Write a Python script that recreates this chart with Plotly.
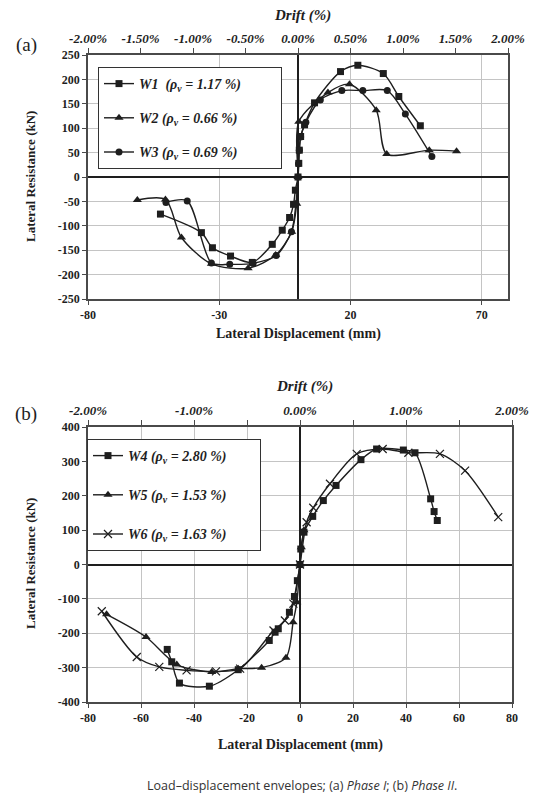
import plotly.graph_objects as go

# ---------------- Panel (a): Phase I ----------------
w1_x = [-52.4, -36.8, -32.6, -25.7, -17.4, -9.8, -6.0, -3.2, -1.7, -1.0, 0.0, 0.3, 0.5, 1.0, 2.5, 6.3, 16.2, 22.8, 32.5, 38.4, 46.6]
w1_y = [-76, -114, -145, -162, -175, -138, -109, -83, -56, -27, 0, 28, 55, 83, 107, 152, 216, 229, 212, 165, 105]

w2_x = [-61.2, -50.5, -44.4, -33.0, -19.0, -8.5, -2.4, -0.5, 0.0, 0.3, 11.4, 19.6, 29.8, 33.8, 50.0, 60.4]
w2_y = [-47, -46, -124, -178, -187, -160, -112, -55, 0, 113, 173, 190, 137, 47, 55, 53]

w3_x = [-50.3, -42.2, -33.0, -26.0, -17.1, -8.3, -2.5, -0.8, 0.0, 0.2, 0.5, 1.0, 3.0, 8.5, 16.7, 24.7, 34.0, 40.9, 51.0]
w3_y = [-52, -49, -176, -179, -177, -161, -112, -55, 0, 27, 55, 82, 112, 158, 177, 177, 177, 129, 42]

a_xticks = [-80, -30, 20, 70]
a_yticks = [250, 200, 150, 100, 50, 0, -50, -100, -150, -200, -250]
a_drift = [-2.0, -1.5, -1.0, -0.5, 0.0, 0.5, 1.0, 1.5, 2.0]

# ---------------- Panel (b): Phase II ----------------
w4_x = [-50.1, -48.4, -45.5, -34.2, -23.3, -11.6, -9.4, -8.2, -4.0, -2.1, -1.0, 0.0, 0.3, 1.5, 4.8, 8.8, 13.6, 23.0, 28.9, 39.0, 43.4, 49.3, 50.6, 51.8]
w4_y = [-247, -283, -345, -354, -306, -221, -197, -187, -139, -93, -47, 0, 45, 94, 140, 186, 230, 305, 336, 333, 325, 191, 154, 128]

w5_x = [-73.0, -58.1, -46.5, -33.3, -23.3, -14.5, -5.3, -2.6, -1.2, 0.0, 0.5, 1.5]
w5_y = [-145, -211, -291, -313, -303, -300, -271, -168, -110, 0, 50, 100]

w6_x = [-74.8, -61.6, -53.1, -42.8, -31.7, -22.6, -10.0, -5.7, -2.5, 0.0, 2.5, 5.0, 11.3, 21.4, 31.2, 40.9, 52.8, 62.3, 74.8]
w6_y = [-136, -269, -298, -308, -311, -303, -192, -163, -114, 0, 123, 165, 235, 322, 336, 325, 322, 273, 138]

b_xticks = [-80, -60, -40, -20, 0, 20, 40, 60, 80]
b_yticks = [400, 300, 200, 100, 0, -100, -200, -300, -400]
b_drift = [-2.0, -1.0, 0.0, 1.0, 2.0]

names_a = ["W1  (ρ<sub>v</sub> = 1.17 %)", "W2 (ρ<sub>v</sub> = 0.66 %)", "W3 (ρ<sub>v</sub> = 0.69 %)"]
names_b = ["W4 (ρ<sub>v</sub> = 2.80 %)", "W5 (ρ<sub>v</sub> = 1.53 %)", "W6 (ρ<sub>v</sub> = 1.63 %)"]

W, H = 537, 794
SERIF = "Liberation Serif"
INK = "#1e1e1e"
GRID = "#c4c4c4"
BORDER = "#4a4a4a"
PAD_A = "\u00a0" * 10  # right padding inside the legend boxes
PAD_B = "\u00a0" * 8


def px(v):
    return v / W


def py(v):
    return 1 - v / H


fig = go.Figure()

line_style = dict(color=INK, width=1.4, shape="spline", smoothing=0.8)

series_a = [
    (w1_x, w1_y, names_a[0], dict(symbol="square", size=7)),
    (w2_x, w2_y, names_a[1], dict(symbol="triangle-up", size=8)),
    (w3_x, w3_y, names_a[2], dict(symbol="circle", size=7)),
]
for i, (xs, ys, nm, mk) in enumerate(series_a):
    fig.add_trace(go.Scatter(
        x=xs, y=ys, name="<b><i>" + nm + "</i></b>" + PAD_A, mode="lines+markers",
        line=line_style, marker=dict(color=INK, **mk),
        xaxis="x", yaxis="y", legend="legend", legendgroup="a%d" % i,
    ))

series_b = [
    (w4_x, w4_y, names_b[0], dict(symbol="square", size=7)),
    (w5_x, w5_y, names_b[1], dict(symbol="triangle-up", size=8)),
    (w6_x, w6_y, names_b[2], dict(symbol="x-thin", size=8, line=dict(color=INK, width=1.2))),
]
for i, (xs, ys, nm, mk) in enumerate(series_b):
    fig.add_trace(go.Scatter(
        x=xs, y=ys, name="<b><i>" + nm + "</i></b>" + PAD_B, mode="lines+markers",
        line=line_style, marker=dict(color=INK, **mk),
        xaxis="x2", yaxis="y2", legend="legend2", legendgroup="b%d" % i,
    ))

# invisible carriers for the drift (top) axes
fig.add_trace(go.Scatter(x=a_drift, y=[0] * len(a_drift), mode="markers",
                         marker=dict(opacity=0), showlegend=False, hoverinfo="skip",
                         xaxis="x3", yaxis="y"))
fig.add_trace(go.Scatter(x=b_drift, y=[0] * len(b_drift), mode="markers",
                         marker=dict(opacity=0), showlegend=False, hoverinfo="skip",
                         xaxis="x4", yaxis="y2"))

tickfont = dict(family=SERIF, size=12, color=INK, weight="bold")
dfont = dict(family=SERIF, size=13, color=INK, weight="bold", style="italic")

common_x = dict(showgrid=True, gridcolor=GRID, gridwidth=1,
                zeroline=True, zerolinecolor=INK, zerolinewidth=2,
                showline=True, linecolor=BORDER, linewidth=1.5,
                ticks="outside", ticklen=4, tickcolor=BORDER,
                tickfont=tickfont, automargin=False)
common_y = dict(showgrid=True, gridcolor=GRID, gridwidth=1,
                zeroline=True, zerolinecolor=INK, zerolinewidth=2,
                showline=True, linecolor=BORDER, linewidth=1.5, mirror=True,
                ticks="outside", ticklen=4, tickcolor=BORDER,
                tickfont=tickfont, automargin=False)

fig.update_layout(
    width=W, height=H,
    margin=dict(l=0, r=0, t=0, b=0, pad=0, autoexpand=False),
    paper_bgcolor="white", plot_bgcolor="white",
    showlegend=True,
    xaxis=dict(common_x, domain=[px(88), px(508)], anchor="y", range=[-80, 80],
               tickvals=a_xticks, ticktext=[str(v) for v in a_xticks]),
    yaxis=dict(common_y, domain=[py(299), py(55)], anchor="x", range=[-250, 250],
               tickvals=a_yticks, ticktext=[str(v) for v in a_yticks]),
    xaxis3=dict(overlaying="x", side="top", anchor="y", range=[-2, 2], automargin=False,
                showgrid=False, zeroline=False, showline=True, linecolor=BORDER, linewidth=1.5,
                ticks="outside", ticklen=5, tickcolor=BORDER,
                tickvals=a_drift, ticktext=["%.2f%%" % v for v in a_drift], tickfont=dfont),
    xaxis2=dict(common_x, domain=[px(88), px(512)], anchor="y2", range=[-80, 80],
                tickvals=b_xticks, ticktext=[str(v) for v in b_xticks]),
    yaxis2=dict(common_y, domain=[py(702), py(427)], anchor="x2", range=[-400, 400],
                tickvals=b_yticks, ticktext=[str(v) for v in b_yticks]),
    xaxis4=dict(overlaying="x2", side="top", anchor="y2", range=[-2, 2], automargin=False,
                showgrid=False, zeroline=False, showline=True, linecolor=BORDER, linewidth=1.5,
                ticks="outside", ticklen=5, tickcolor=BORDER,
                tickvals=b_drift, ticktext=["%.2f%%" % v for v in b_drift], tickfont=dfont,
                minor=dict(dtick=0.5, tick0=0, ticks="outside", ticklen=5, tickcolor=BORDER, showgrid=False)),
    legend=dict(x=px(98), y=py(67), xanchor="left", yanchor="top",
                bgcolor="white", bordercolor="#333", borderwidth=1,
                font=dict(family=SERIF, size=14, color=INK),
                tracegroupgap=13, itemwidth=30),
    legend2=dict(x=px(87), y=py(439), xanchor="left", yanchor="top",
                 bgcolor="white", bordercolor="#333", borderwidth=1,
                 font=dict(family=SERIF, size=14, color=INK),
                 tracegroupgap=18, itemwidth=30),
)

ann = []


def label(text, x, y, size, angle=0, bold=True, italic=False, family=SERIF, color=INK):
    ann.append(dict(text=text, x=px(x), y=py(y), xref="paper", yref="paper",
                    showarrow=False, textangle=angle, xanchor="center", yanchor="middle",
                    font=dict(family=family, size=size, color=color,
                              weight="bold" if bold else "normal",
                              style="italic" if italic else "normal")))


label("Drift (%)", 302, 15, 15, italic=True)
label("(a)", 26, 45, 19, bold=False)
label("Lateral Resistance (kN)", 30, 177, 13, angle=-90)
label("Lateral Displacement (mm)", 298, 334, 14)

label("Drift (%)", 304, 386, 15, italic=True)
label("(b)", 26, 414, 19, bold=False)
label("Lateral Resistance (kN)", 30, 564, 13, angle=-90)
label("Lateral Displacement (mm)", 300, 745, 14)

label("Load–displacement envelopes; (a) <i>Phase I</i>; (b) <i>Phase II</i>.", 302, 785, 12.5,
      bold=False, family="Open Sans", color="#333")

fig.update_layout(annotations=ann)

fig.write_html("out.html", config={"displayModeBar": False},
               post_script="document.body.style.margin='0px';")
